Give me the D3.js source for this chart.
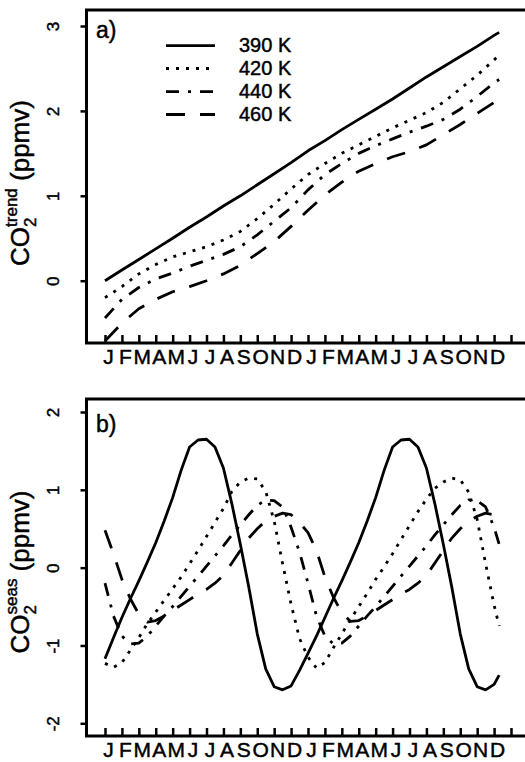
<!DOCTYPE html>
<html>
<head>
<meta charset="utf-8">
<script src="https://cdn.jsdelivr.net/npm/d3@7"></script>
<style>
    body { margin: 0; background: #fff; }
    svg text { font-family: "Liberation Sans", Arial, sans-serif; fill: #000; stroke: #000; stroke-width: 0.45px; }
</style>
</head>
<body>
<svg id="chart" width="525" height="762"></svg>
<script>
// month letters under the ticks, two years
let monthLabels = ["J", "F", "M", "A", "M", "J", "J", "A", "S", "O", "N", "D",
    "J", "F", "M", "A", "M", "J", "J", "A", "S", "O", "N", "D"];
let monthTicks = [0, 1, 2, 3, 4, 5, 6, 7, 8, 9, 10, 11, 12, 13, 14, 15, 16, 17, 18, 19, 20, 21, 22, 23, 24];
let trendTicks = [0, 1, 2, 3];
let seasTicks = [-2, -1, 0, 1, 2];
let levelNames = ["390 K", "420 K", "440 K", "460 K"];

// a) trend, monthly
let trendMonths = [0, 1, 2, 3, 4, 5, 6, 7, 8, 9, 10, 11, 12, 13, 14, 15, 16, 17, 18, 19, 20, 21, 22, 23, 23.3];
let trend390 = [0.00, 0.126, 0.25, 0.375, 0.50, 0.63, 0.75, 0.88, 1.00, 1.13, 1.26, 1.39, 1.53, 1.65, 1.78, 1.90,
    2.02, 2.14, 2.27, 2.40, 2.52, 2.64, 2.76, 2.89, 2.925];
let trend420 = [-0.20, -0.07, 0.08, 0.19, 0.28, 0.34, 0.40, 0.48, 0.58, 0.73, 0.90, 1.08, 1.25, 1.38, 1.50, 1.60,
    1.70, 1.80, 1.89, 1.98, 2.10, 2.26, 2.42, 2.60, 2.66];
let trend440 = [-0.44, -0.22, -0.08, 0.02, 0.09, 0.17, 0.24, 0.31, 0.40, 0.54, 0.70, 0.86, 1.07, 1.25, 1.38, 1.50,
    1.59, 1.67, 1.75, 1.82, 1.90, 2.02, 2.17, 2.33, 2.37];
let trend460 = [-0.71, -0.50, -0.33, -0.22, -0.13, -0.07, 0.00, 0.08, 0.18, 0.32, 0.46, 0.64, 0.83, 1.01, 1.16, 1.29,
    1.38, 1.46, 1.52, 1.60, 1.72, 1.84, 1.97, 2.10, 2.16];

// b) seasonal, half-monthly
let seasMonths = [0, 0.5, 1, 1.5, 2, 2.5, 3, 3.5, 4, 4.5, 5, 5.5, 6, 6.5, 7, 7.5, 8, 8.5, 9, 9.5, 10, 10.5, 11, 11.5,
    12, 12.5, 13, 13.5, 14, 14.5, 15, 15.5, 16, 16.5, 17, 17.5, 18, 18.5, 19, 19.5, 20, 20.5, 21, 21.5, 22, 22.5, 23, 23.3];
let seas390 = [-1.17, -0.90, -0.64, -0.40, -0.17, 0.07, 0.32, 0.60, 0.90, 1.25, 1.55, 1.64, 1.65, 1.55, 1.28, 0.82,
    0.30, -0.25, -0.85, -1.30, -1.53, -1.57, -1.52, -1.32,
    -1.10, -0.88, -0.64, -0.40, -0.17, 0.07, 0.32, 0.60, 0.90, 1.25, 1.55, 1.64, 1.65, 1.55, 1.28, 0.82,
    0.30, -0.25, -0.85, -1.30, -1.53, -1.57, -1.50, -1.38];
let seas420 = [-1.23, -1.28, -1.22, -1.06, -0.90, -0.72, -0.57, -0.42, -0.27, -0.12, 0.05, 0.22, 0.40, 0.58, 0.76, 0.98,
    1.10, 1.15, 1.14, 0.98, 0.60, 0.05, -0.47, -0.91,
    -1.15, -1.29, -1.22, -1.03, -0.85, -0.67, -0.50, -0.33, -0.15, 0.01, 0.18, 0.36, 0.54, 0.72, 0.88, 1.02,
    1.10, 1.15, 1.13, 0.97, 0.62, 0.05, -0.48, -0.75];
let seas440 = [-0.20, -0.62, -0.88, -0.98, -0.97, -0.88, -0.75, -0.62, -0.50, -0.37, -0.24, -0.11, 0.02, 0.15, 0.28, 0.42,
    0.55, 0.68, 0.80, 0.87, 0.86, 0.78, 0.52, 0.20,
    -0.20, -0.62, -0.88, -0.98, -0.97, -0.88, -0.75, -0.62, -0.50, -0.37, -0.24, -0.11, 0.02, 0.15, 0.28, 0.42,
    0.55, 0.68, 0.80, 0.87, 0.86, 0.78, 0.52, 0.30];
let seas460 = [0.48, 0.18, -0.15, -0.40, -0.60, -0.70, -0.68, -0.62, -0.55, -0.48, -0.41, -0.34, -0.28, -0.20, -0.10, 0.06,
    0.22, 0.38, 0.50, 0.60, 0.66, 0.70, 0.68, 0.58,
    0.45, 0.22, -0.12, -0.38, -0.58, -0.69, -0.68, -0.62, -0.55, -0.48, -0.41, -0.34, -0.28, -0.20, -0.10, 0.06,
    0.22, 0.38, 0.50, 0.60, 0.66, 0.70, 0.68, 0.62];

// line styles, one per level
let dashStyles = ["none", "3,7", "13,9,3,9", "19,15"];

let svg = d3.select("#chart");
let frameLeft = 86.5, frameRight = 530;

let x = d3.scaleLinear()
    .domain([0, 24])
    .range([105, 511]);

drawPanel({
    top: 10, bottom: 343,
    y: d3.scaleLinear().domain([0, 3]).range([280.7, 26]),
    ticks: trendTicks,
    months: trendMonths,
    series: [trend390, trend420, trend440, trend460],
    tag: "a)", tagY: 38,
    sup: "trend", titleY: 183
});

drawPanel({
    top: 399, bottom: 736,
    y: d3.scaleLinear().domain([-2, 2]).range([723.3, 412]),
    ticks: seasTicks,
    months: seasMonths,
    series: [seas390, seas420, seas440, seas460],
    tag: "b)", tagY: 432,
    sup: "seas", titleY: 572
});

renderLegend();

function drawPanel(p) {
    let line = d3.line()
        .x(function (d) { return x(d[0]); })
        .y(function (d) { return p.y(d[1]); });

    p.series.forEach(function (vals, i) {
        let pts = p.months.map(function (m, j) { return [m, vals[j]]; });
        svg.append("path")
            .attr("d", line(pts))
            .attr("fill", "none")
            .attr("stroke", "#000")
            .attr("stroke-width", 2.8)
            .attr("stroke-linejoin", "round")
            .attr("stroke-dasharray", dashStyles[i]);
    });

    // frame (right side runs off the page)
    svg.append("rect")
        .attr("x", frameLeft)
        .attr("y", p.top)
        .attr("width", frameRight - frameLeft)
        .attr("height", p.bottom - p.top)
        .attr("fill", "none")
        .attr("stroke", "#000")
        .attr("stroke-width", 3);

    // left axis, rotated labels, plain hyphen for negatives
    let yAxis = d3.axisLeft(p.y)
        .tickValues(p.ticks)
        .tickSize(6)
        .tickFormat(function (d) { return String(d); });
    let gy = svg.append("g")
        .attr("transform", "translate(" + frameLeft + ",0)")
        .call(yAxis);
    gy.select(".domain").remove();
    gy.selectAll("line").attr("stroke-width", 2.5);
    gy.selectAll("text")
        .attr("transform", "rotate(-90)")
        .attr("x", 0)
        .attr("y", -28)
        .attr("dy", 0)
        .attr("text-anchor", "middle")
        .style("font-size", "17px");

    // bottom axis, ticks pointing inward
    let xAxis = d3.axisBottom(x)
        .tickValues(monthTicks)
        .tickSizeInner(-8)
        .tickSizeOuter(0)
        .tickFormat(function (d) { return d < monthLabels.length ? monthLabels[d] : ""; });
    let gx = svg.append("g")
        .attr("transform", "translate(0," + p.bottom + ")")
        .call(xAxis);
    gx.select(".domain").remove();
    gx.selectAll("line").attr("stroke-width", 2.5);
    gx.selectAll("text")
        .attr("x", 3)
        .attr("y", 21)
        .attr("dy", 0)
        .style("font-size", "21px");

    svg.append("text")
        .attr("x", 96)
        .attr("y", p.tagY)
        .style("font-size", "23px")
        .text(p.tag);

    // y title: CO2 with stacked sub/superscript
    let t = svg.append("text")
        .attr("transform", "translate(29," + p.titleY + ") rotate(-90)")
        .attr("text-anchor", "middle")
        .style("font-size", "26px");
    t.append("tspan").text("CO");
    t.append("tspan").attr("dy", 7).style("font-size", "17px").text("2");
    t.append("tspan").attr("dx", -9.5).attr("dy", -19).style("font-size", "17px").text(p.sup);
    t.append("tspan").attr("dy", 12).text(" (ppmv)");
}

function renderLegend() {
    let rowY = [45.7, 68.5, 91.7, 114.5];
    levelNames.forEach(function (name, i) {
        svg.append("line")
            .attr("x1", 166)
            .attr("x2", 215)
            .attr("y1", rowY[i])
            .attr("y2", rowY[i])
            .attr("stroke", "#000")
            .attr("stroke-width", 2.8)
            .attr("stroke-dasharray", dashStyles[i]);
        svg.append("text")
            .attr("x", 239)
            .attr("y", rowY[i] + 6.5)
            .style("font-size", "20px")
            .text(name);
    });
}
</script>
</body>
</html>
